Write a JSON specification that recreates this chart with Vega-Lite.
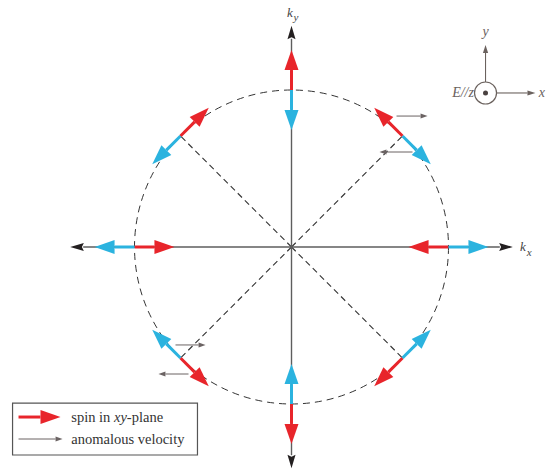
{
  "$schema": "https://vega.github.io/schema/vega-lite/v6.json",
  "width": 548,
  "height": 470,
  "padding": 0,
  "autosize": {"type": "none"},
  "background": "white",
  "config": {"view": {"stroke": null}},
  "datasets": {
    "axes": [
      {"x": -1.327, "y": 0, "x2": 1.327, "y2": 0},
      {"x": 0, "y": -1.327, "x2": 0, "y2": 1.327}
    ],
    "axisHeads": [
      {"x": 1.327, "y": 0, "dir": 90},
      {"x": -1.327, "y": 0, "dir": 270},
      {"x": 0, "y": 1.327, "dir": 0},
      {"x": 0, "y": -1.327, "dir": 180}
    ],
    "center": [{"x": 0, "y": 0}],
    "diagonals": [
      {"x": 0, "y": 0, "x2": 0.7071, "y2": 0.7071},
      {"x": 0, "y": 0, "x2": -0.7071, "y2": 0.7071},
      {"x": 0, "y": 0, "x2": -0.7071, "y2": -0.7071},
      {"x": 0, "y": 0, "x2": 0.7071, "y2": -0.7071}
    ],
    "spin": [
      {"x": 0, "y": 1, "x2": 0, "y2": 1.127, "dir": 0, "c": "red"},
      {"x": 0, "y": 1, "x2": 0, "y2": 0.873, "dir": 180, "c": "blue"},
      {"x": 0, "y": -1, "x2": 0, "y2": -1.127, "dir": 180, "c": "red"},
      {"x": 0, "y": -1, "x2": 0, "y2": -0.873, "dir": 0, "c": "blue"},
      {"x": 1, "y": 0, "x2": 0.873, "y2": 0, "dir": 270, "c": "red"},
      {"x": 1, "y": 0, "x2": 1.127, "y2": 0, "dir": 90, "c": "blue"},
      {"x": -1, "y": 0, "x2": -0.873, "y2": 0, "dir": 90, "c": "red"},
      {"x": -1, "y": 0, "x2": -1.127, "y2": 0, "dir": 270, "c": "blue"},
      {"x": 0.7071, "y": 0.7071, "x2": 0.6171, "y2": 0.7971, "dir": 315, "c": "red"},
      {"x": 0.7071, "y": 0.7071, "x2": 0.7971, "y2": 0.6171, "dir": 135, "c": "blue"},
      {"x": -0.7071, "y": 0.7071, "x2": -0.6171, "y2": 0.7971, "dir": 45, "c": "red"},
      {"x": -0.7071, "y": 0.7071, "x2": -0.7971, "y2": 0.6171, "dir": 225, "c": "blue"},
      {"x": -0.7071, "y": -0.7071, "x2": -0.6171, "y2": -0.7971, "dir": 135, "c": "red"},
      {"x": -0.7071, "y": -0.7071, "x2": -0.7971, "y2": -0.6171, "dir": 315, "c": "blue"},
      {"x": 0.7071, "y": -0.7071, "x2": 0.6171, "y2": -0.7971, "dir": 225, "c": "red"},
      {"x": 0.7071, "y": -0.7071, "x2": 0.7971, "y2": -0.6171, "dir": 45, "c": "blue"},
      {"x": -1.739, "y": -1.083, "x2": -1.599, "y2": -1.083, "dir": 90, "c": "red"}
    ],
    "velocity": [
      {"x": 0.669, "y": 0.834, "x2": 0.822, "y2": 0.834, "dir": 90},
      {"x": 0.771, "y": 0.605, "x2": 0.605, "y2": 0.605, "dir": 270},
      {"x": -0.739, "y": -0.624, "x2": -0.592, "y2": -0.624, "dir": 90},
      {"x": -0.656, "y": -0.809, "x2": -0.803, "y2": -0.809, "dir": 270},
      {"x": -1.739, "y": -1.223, "x2": -1.503, "y2": -1.223, "dir": 90}
    ],
    "inset": [
      {"x": 1.236, "y": 1.051, "x2": 1.236, "y2": 1.236, "dir": 0},
      {"x": 1.306, "y": 0.981, "x2": 1.503, "y2": 0.981, "dir": 90}
    ],
    "insetCenter": [{"x": 1.236, "y": 0.981}],
    "insetY": [{"x": 1.236, "y": 1.345, "t": "y"}],
    "insetX": [{"x": 1.575, "y": 0.955, "t": "x"}],
    "insetE": [{"x": 1.162, "y": 0.955, "t": "E//z"}],
    "kLabels": [
      {"x": -0.029, "y": 1.465, "t": "k"},
      {"x": 1.455, "y": -0.025, "t": "k"}
    ],
    "kSubs": [
      {"x": 0.013, "y": 1.44, "t": "y"},
      {"x": 1.499, "y": -0.06, "t": "x"}
    ],
    "legendBox": [{"x": -1.777, "y": -0.994, "x2": -0.599, "y2": -1.325}],
    "legendText": [
      {"x": -1.403, "y": -1.092, "t": "spin in "},
      {"x": -1.049, "y": -1.092, "t": "-plane"},
      {"x": -1.403, "y": -1.232, "t": "anomalous velocity"}
    ],
    "legendItalic": [
      {"x": -1.131, "y": -1.092, "t": "xy"}
    ]
  },
  "encoding": {
    "x": {"field": "x", "type": "quantitative", "scale": {"domain": [-1.857, 1.634], "nice": false, "zero": false}, "axis": null},
    "y": {"field": "y", "type": "quantitative", "scale": {"domain": [-1.4204, 1.5732], "nice": false, "zero": false}, "axis": null}
  },
  "layer": [
    {
      "data": {"name": "center"},
      "mark": {"type": "point", "shape": "circle", "size": 98596, "filled": false, "stroke": "#333333", "strokeWidth": 1, "strokeDash": [7, 5], "opacity": 1}
    },
    {
      "data": {"name": "diagonals"},
      "mark": {"type": "rule", "stroke": "#333333", "strokeWidth": 1.1, "strokeDash": [6, 4]},
      "encoding": {"x2": {"field": "x2"}, "y2": {"field": "y2"}}
    },
    {
      "data": {"name": "axes"},
      "mark": {"type": "rule", "stroke": "#5e5e5e", "strokeWidth": 1.4},
      "encoding": {"x2": {"field": "x2"}, "y2": {"field": "y2"}}
    },
    {
      "data": {"name": "axisHeads"},
      "mark": {"type": "point", "shape": "M0,-2L0.62,0.1L0,-0.2L-0.62,0.1Z", "size": 169, "filled": true, "fill": "#231f20", "strokeWidth": 0, "opacity": 1},
      "encoding": {"angle": {"field": "dir", "type": "quantitative", "scale": null}}
    },
    {
      "data": {"name": "spin"},
      "mark": {"type": "rule", "strokeWidth": 3},
      "encoding": {
        "x2": {"field": "x2"}, "y2": {"field": "y2"},
        "color": {"field": "c", "type": "nominal", "scale": {"domain": ["red", "blue"], "range": ["#e8252b", "#2bb3df"]}, "legend": null}
      }
    },
    {
      "data": {"name": "spin"},
      "mark": {"type": "point", "shape": "M0,-2L0.7,0L-0.7,0Z", "size": 400, "filled": true, "strokeWidth": 0, "opacity": 1},
      "encoding": {
        "x": {"field": "x2", "type": "quantitative"},
        "y": {"field": "y2", "type": "quantitative"},
        "angle": {"field": "dir", "type": "quantitative", "scale": null},
        "color": {"field": "c", "type": "nominal", "scale": {"domain": ["red", "blue"], "range": ["#e8252b", "#2bb3df"]}, "legend": null}
      }
    },
    {
      "data": {"name": "velocity"},
      "mark": {"type": "rule", "stroke": "#6b6363", "strokeWidth": 1},
      "encoding": {"x2": {"field": "x2"}, "y2": {"field": "y2"}}
    },
    {
      "data": {"name": "velocity"},
      "mark": {"type": "point", "shape": "M0,-2L0.7,0L-0.7,0Z", "size": 49, "filled": true, "fill": "#6b6363", "strokeWidth": 0, "opacity": 1},
      "encoding": {
        "x": {"field": "x2", "type": "quantitative"},
        "y": {"field": "y2", "type": "quantitative"},
        "angle": {"field": "dir", "type": "quantitative", "scale": null}
      }
    },
    {
      "data": {"name": "inset"},
      "mark": {"type": "rule", "stroke": "#6b625e", "strokeWidth": 1.1},
      "encoding": {"x2": {"field": "x2"}, "y2": {"field": "y2"}}
    },
    {
      "data": {"name": "inset"},
      "mark": {"type": "point", "shape": "M0,-2L0.65,0L-0.65,0Z", "size": 64, "filled": true, "fill": "#6b625e", "strokeWidth": 0, "opacity": 1},
      "encoding": {
        "x": {"field": "x2", "type": "quantitative"},
        "y": {"field": "y2", "type": "quantitative"},
        "angle": {"field": "dir", "type": "quantitative", "scale": null}
      }
    },
    {
      "data": {"name": "insetCenter"},
      "mark": {"type": "point", "shape": "circle", "size": 484, "filled": false, "stroke": "#6b625e", "strokeWidth": 1.2, "opacity": 1}
    },
    {
      "data": {"name": "insetCenter"},
      "mark": {"type": "point", "shape": "circle", "size": 25, "filled": true, "fill": "#4a4240", "strokeWidth": 0, "opacity": 1}
    },
    {
      "data": {"name": "insetY"},
      "mark": {"type": "text", "font": "Liberation Serif", "fontStyle": "italic", "fontSize": 14, "color": "#6b625e", "align": "center", "baseline": "alphabetic"},
      "encoding": {"text": {"field": "t"}}
    },
    {
      "data": {"name": "insetX"},
      "mark": {"type": "text", "font": "Liberation Serif", "fontStyle": "italic", "fontSize": 14, "color": "#6b625e", "align": "left", "baseline": "alphabetic"},
      "encoding": {"text": {"field": "t"}}
    },
    {
      "data": {"name": "insetE"},
      "mark": {"type": "text", "font": "Liberation Serif", "fontStyle": "italic", "fontSize": 14, "color": "#6b625e", "align": "right", "baseline": "alphabetic"},
      "encoding": {"text": {"field": "t"}}
    },
    {
      "data": {"name": "kLabels"},
      "mark": {"type": "text", "font": "Liberation Serif", "fontStyle": "italic", "fontSize": 13, "color": "#444444", "align": "left", "baseline": "alphabetic"},
      "encoding": {"text": {"field": "t"}}
    },
    {
      "data": {"name": "kSubs"},
      "mark": {"type": "text", "font": "Liberation Serif", "fontStyle": "italic", "fontSize": 11, "color": "#444444", "align": "left", "baseline": "alphabetic"},
      "encoding": {"text": {"field": "t"}}
    },
    {
      "data": {"name": "legendBox"},
      "mark": {"type": "rect", "fill": "white", "stroke": "#555555", "strokeWidth": 1.2},
      "encoding": {"x2": {"field": "x2"}, "y2": {"field": "y2"}}
    },
    {
      "data": {"name": "spin"},
      "transform": [{"filter": "datum.x < -1.5"}],
      "layer": [
        {
          "mark": {"type": "rule", "strokeWidth": 3, "stroke": "#e8252b"},
          "encoding": {"x2": {"field": "x2"}, "y2": {"field": "y2"}}
        },
        {
          "mark": {"type": "point", "shape": "M0,-2L0.7,0L-0.7,0Z", "size": 400, "filled": true, "fill": "#e8252b", "strokeWidth": 0, "opacity": 1},
          "encoding": {
            "x": {"field": "x2", "type": "quantitative"},
            "y": {"field": "y2", "type": "quantitative"},
            "angle": {"field": "dir", "type": "quantitative", "scale": null}
          }
        }
      ]
    },
    {
      "data": {"name": "velocity"},
      "transform": [{"filter": "datum.x < -1.5"}],
      "layer": [
        {
          "mark": {"type": "rule", "stroke": "#6b6363", "strokeWidth": 1},
          "encoding": {"x2": {"field": "x2"}, "y2": {"field": "y2"}}
        },
        {
          "mark": {"type": "point", "shape": "M0,-2L0.7,0L-0.7,0Z", "size": 49, "filled": true, "fill": "#6b6363", "strokeWidth": 0, "opacity": 1},
          "encoding": {
            "x": {"field": "x2", "type": "quantitative"},
            "y": {"field": "y2", "type": "quantitative"},
            "angle": {"field": "dir", "type": "quantitative", "scale": null}
          }
        }
      ]
    },
    {
      "data": {"name": "legendText"},
      "mark": {"type": "text", "font": "Liberation Serif", "fontSize": 14.5, "color": "#333333", "align": "left", "baseline": "middle"},
      "encoding": {"text": {"field": "t"}}
    },
    {
      "data": {"name": "legendItalic"},
      "mark": {"type": "text", "font": "Liberation Serif", "fontStyle": "italic", "fontSize": 14.5, "color": "#333333", "align": "left", "baseline": "middle"},
      "encoding": {"text": {"field": "t"}}
    }
  ]
}
